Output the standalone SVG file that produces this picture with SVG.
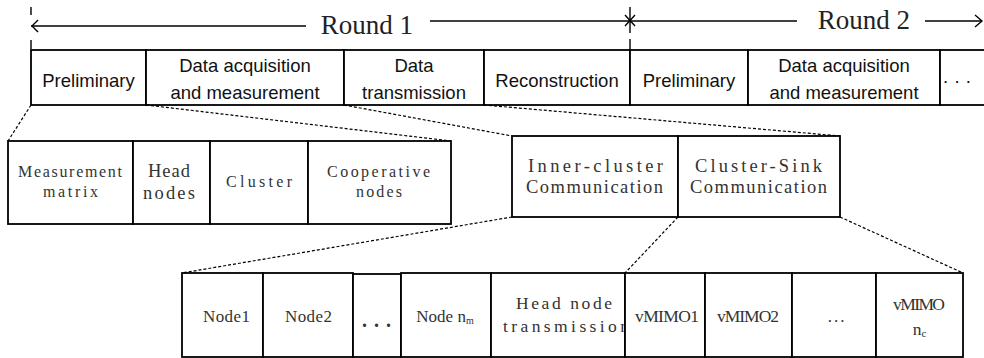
<svg xmlns="http://www.w3.org/2000/svg" width="984" height="358" viewBox="0 0 984 358">
<style>
.b{fill:#fff;stroke:#000;stroke-width:1.8}
.s{font-family:"Liberation Sans",Arial,sans-serif;font-size:18.5px;fill:#111;text-anchor:middle}
.m{font-family:"Liberation Serif","Times New Roman",serif;fill:#333;text-anchor:middle}
.r{font-family:"Liberation Serif","Times New Roman",serif;font-size:27px;fill:#222;text-anchor:middle}
.d{fill:none;stroke:#000;stroke-width:1.2;stroke-dasharray:3 2}
.l{fill:none;stroke:#000;stroke-width:1.4}
</style>
<rect width="984" height="358" fill="#fff"/>
<g id="timeline">
<line class="l" x1="31" y1="7" x2="31" y2="15"/>
<line class="l" x1="31" y1="40" x2="31" y2="49"/>
<path class="l" d="M38 20 L32 26 L38 32"/>
<line class="l" x1="31" y1="26" x2="306" y2="26"/>
<text class="r" x="367" y="34">Round  1</text>
<line class="l" x1="430" y1="21" x2="630" y2="21"/>
<line class="l" x1="630" y1="7" x2="630" y2="33"/>
<line class="l" x1="630" y1="39" x2="630" y2="50"/>
<path class="l" d="M625 15 L635 26 M635 15 L625 26"/>
<line class="l" x1="630" y1="21" x2="797" y2="21"/>
<text class="r" x="864" y="29">Round  2</text>
<line class="l" x1="925" y1="21" x2="982" y2="21"/>
<path class="l" d="M975 15 L982 21 L975 27"/>
</g>
<g id="top-row">
<g id="t1"><rect class="b" x="31" y="50" width="115" height="55"/><text class="s" x="88.5" y="87">Preliminary</text></g>
<g id="t2"><rect class="b" x="146" y="50" width="198" height="55"/><text class="s" x="245" y="72">Data acquisition</text><text class="s" x="245" y="99">and measurement</text></g>
<g id="t3"><rect class="b" x="344" y="50" width="140" height="55"/><text class="s" x="414" y="72">Data</text><text class="s" x="414" y="99">transmission</text></g>
<g id="t4"><rect class="b" x="484" y="50" width="146" height="55"/><text class="s" x="557" y="87">Reconstruction</text></g>
<g id="t5"><rect class="b" x="630" y="50" width="118" height="55"/><text class="s" x="689" y="87">Preliminary</text></g>
<g id="t6"><rect class="b" x="748" y="50" width="192" height="55"/><text class="s" x="844" y="72">Data acquisition</text><text class="s" x="844" y="99">and measurement</text></g>
<g id="t7"><rect class="b" x="940" y="50" width="50" height="55"/><text class="s" x="957" y="87" font-size="15">· · ·</text></g>
</g>
<g id="connectors">
<line class="d" x1="31" y1="105" x2="8" y2="141"/>
<line class="d" x1="146" y1="105" x2="451" y2="141"/>
<line class="d" x1="344" y1="105" x2="512" y2="136"/>
<line class="d" x1="484" y1="105" x2="840" y2="136"/>
<line class="d" x1="512" y1="217" x2="182" y2="273"/>
<line class="d" x1="678" y1="217" x2="625" y2="273"/>
<line class="d" x1="840" y1="217" x2="963" y2="273"/>
</g>
<g id="prelim-group">
<g id="p1"><rect class="b" x="8" y="141" width="125" height="83"/><text class="m" font-size="16" x="70" y="177" textLength="104" lengthAdjust="spacing">Measurement</text><text class="m" font-size="16" x="70.5" y="197" textLength="55" lengthAdjust="spacing">matrix</text></g>
<g id="p2"><rect class="b" x="133" y="141" width="77" height="83"/><text class="m" font-size="18.5" x="169" y="177" textLength="42" lengthAdjust="spacing">Head</text><text class="m" font-size="18.5" x="169" y="199" textLength="52" lengthAdjust="spacing">nodes</text></g>
<g id="p3"><rect class="b" x="210" y="141" width="98" height="83"/><text class="m" font-size="16" x="259" y="187" textLength="66" lengthAdjust="spacing">Cluster</text></g>
<g id="p4"><rect class="b" x="308" y="141" width="143" height="83"/><text class="m" font-size="16" x="378.5" y="177" textLength="103" lengthAdjust="spacing">Cooperative</text><text class="m" font-size="16" x="379" y="197" textLength="46" lengthAdjust="spacing">nodes</text></g>
</g>
<g id="trans-group">
<g id="c1"><rect class="b" x="512" y="136" width="166" height="81"/><text class="m" font-size="18.5" x="595.5" y="172" textLength="135" lengthAdjust="spacing">Inner-cluster</text><text class="m" font-size="18.5" x="594.5" y="193" textLength="137" lengthAdjust="spacing">Communication</text></g>
<g id="c2"><rect class="b" x="678" y="136" width="162" height="81"/><text class="m" font-size="18.5" x="758.5" y="172" textLength="127" lengthAdjust="spacing">Cluster-Sink</text><text class="m" font-size="18.5" x="758.5" y="193" textLength="137" lengthAdjust="spacing">Communication</text></g>
</g>
<g id="bottom-group">
<g id="n1"><rect class="b" x="182" y="273" width="81" height="84"/><text class="m" font-size="17" x="226.5" y="322" textLength="47" lengthAdjust="spacing">Node1</text></g>
<g id="n2"><rect class="b" x="263" y="273" width="90" height="84"/><text class="m" font-size="17" x="308.5" y="322" textLength="47" lengthAdjust="spacing">Node2</text></g>
<g id="n3"><rect class="b" x="353" y="274" width="48" height="83"/><text class="m" font-size="20" font-weight="bold" letter-spacing="7" x="380" y="327">...</text></g>
<g id="n4"><rect class="b" x="401" y="273" width="90" height="84"/><text class="m" font-size="17" x="445" y="322">Node n<tspan font-size="10" dy="2">m</tspan></text></g>
<g id="n5"><rect class="b" x="491" y="273" width="134" height="84"/><text class="m" font-size="17.5" x="564" y="309" textLength="96" lengthAdjust="spacing">Head node</text><text class="m" font-size="17.5" x="566" y="332" textLength="126" lengthAdjust="spacing">transmission</text></g>
<g id="v1"><rect class="b" x="625" y="273" width="80" height="84"/><text class="m" font-size="17.5" x="667" y="322" textLength="64" lengthAdjust="spacing">vMIMO1</text></g>
<g id="v2"><rect class="b" x="705" y="273" width="87" height="84"/><text class="m" font-size="17.5" x="748" y="322" textLength="62" lengthAdjust="spacing">vMIMO2</text></g>
<g id="v3"><rect class="b" x="792" y="273" width="84" height="84"/><text class="m" font-size="17" letter-spacing="2" x="837" y="322">...</text></g>
<g id="v4"><rect class="b" x="876" y="273" width="87" height="84"/><text class="m" font-size="17.5" x="919" y="310" textLength="52" lengthAdjust="spacing">vMIMO</text><text class="m" font-size="17.5" x="919.5" y="335">n<tspan font-size="11" dy="2">c</tspan></text></g>
</g>
</svg>
